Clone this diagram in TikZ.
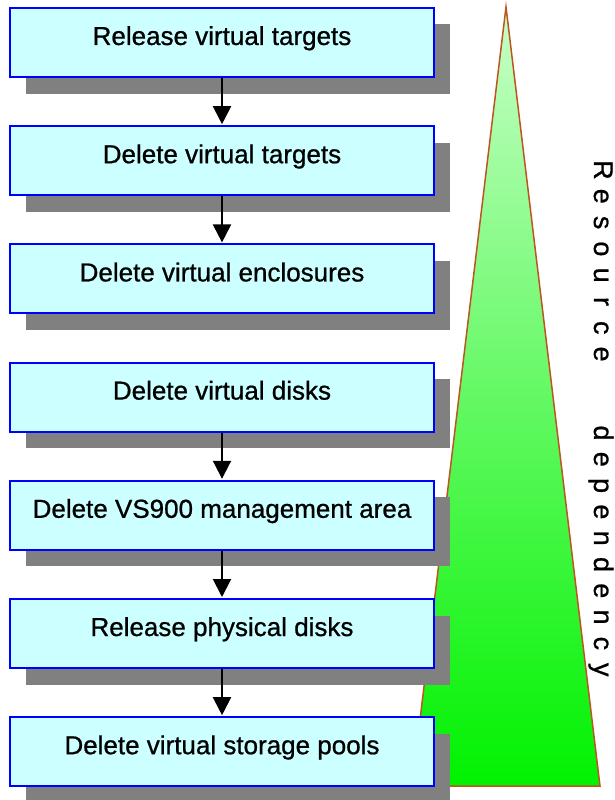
\documentclass[tikz,border=0pt]{standalone}
\usepackage{fontspec}
\setmainfont{Liberation Sans}[FakeBold=0.8]
\usetikzlibrary{arrows.meta,shadows}
\definecolor{boxfill}{RGB}{204,255,255}
\definecolor{boxline}{RGB}{0,0,255}
\definecolor{shadowgray}{RGB}{128,128,128}
\definecolor{trtop}{RGB}{200,255,200}
\definecolor{trbot}{RGB}{0,242,0}
\definecolor{trline}{RGB}{190,85,30}
\tikzset{
  stepbox/.style={draw=boxline, line width=2pt, fill=boxfill, minimum width=424pt, minimum height=69pt,
    inner sep=0pt, text height=17pt, text depth=12pt,
    font=\fontsize{26}{29}\selectfont,
    drop shadow={shadow xshift=15.5pt, shadow yshift=-16.5pt, fill=shadowgray, opacity=1}},
  flow/.style={line width=2pt, -{Triangle[width=18pt,length=18pt]}, shorten >=1pt},
  vletter/.style={rotate=-90, anchor=base, inner sep=0pt, font=\fontsize{27}{30}\selectfont}
}
\begin{document}
\begin{tikzpicture}[x=1pt,y=-1pt]
\useasboundingbox (0,0) rectangle (615,800);
% dependency triangle
\shadedraw[top color=trtop, bottom color=trbot, draw=trline, line width=1.5pt]
  (506,7) -- (600,786) -- (412,786) -- cycle;
% steps
\node[stepbox] (b1) at (222,42.5) {Release virtual targets};
\node[stepbox] (b2) at (222,160.7) {Delete virtual targets};
\node[stepbox] (b3) at (222,278.9) {Delete virtual enclosures};
\node[stepbox] (b4) at (222,397.1) {Delete virtual disks};
\node[stepbox] (b5) at (222,515.3) {Delete VS900 management area};
\node[stepbox] (b6) at (222,633.5) {Release physical disks};
\node[stepbox] (b7) at (222,751.7) {Delete virtual storage pools};
% arrows
\draw[flow] (b1) -- (b2);
\draw[flow] (b2) -- (b3);
\draw[flow] (b4) -- (b5);
\draw[flow] (b5) -- (b6);
\draw[flow] (b6) -- (b7);
% vertical label
\foreach \c [count=\i from 0] in {R,e,s,o,u,r,c,e,{},{},d,e,p,e,n,d,e,n,c,y}{
  \node[vletter] (l\i) at (594,{170+\i*26.3}) {\c};
}
\end{tikzpicture}
\end{document}
